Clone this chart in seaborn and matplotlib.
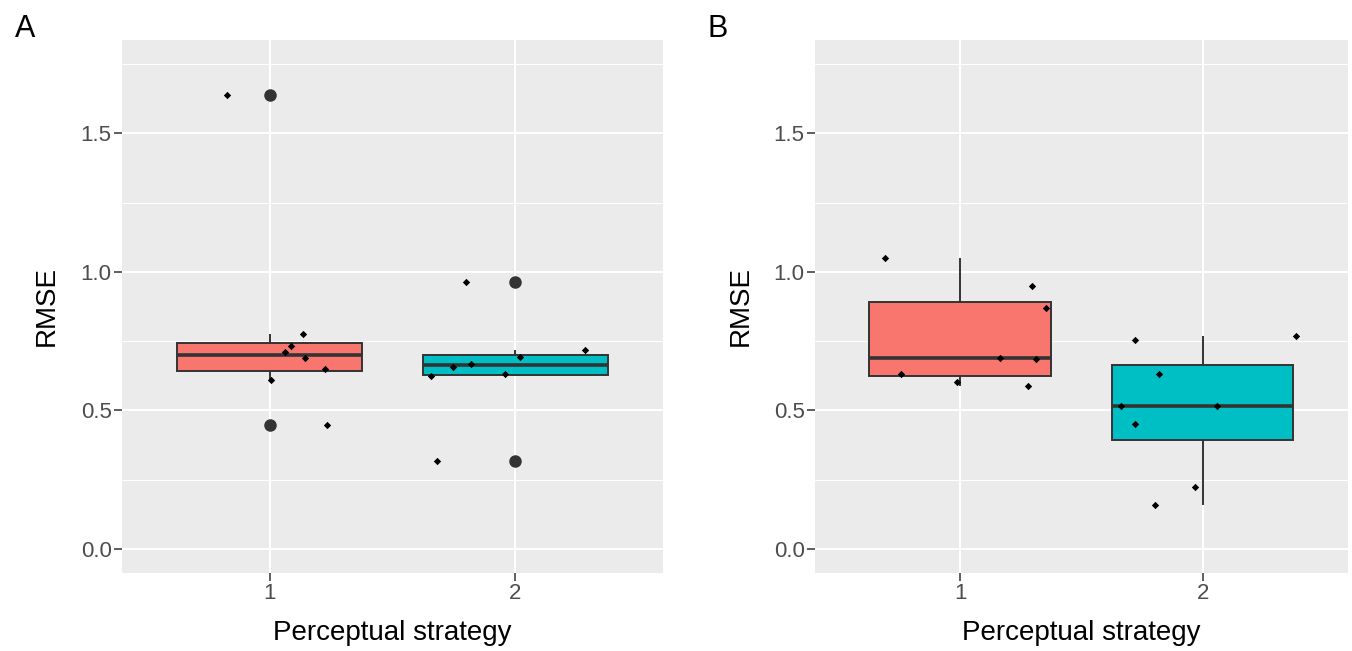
#!/usr/bin/env python3
import matplotlib

matplotlib.use("Agg")
import matplotlib.pyplot as plt
import pandas as pd
import seaborn as sns
from matplotlib.ticker import FixedLocator

# categories and colours
strategies = ["1", "2"]
fill_colors = ["#F8766D", "#00BFC4"]

# panel A: RMSE per subject and horizontal jitter
a_rmse_1 = [1.638, 0.774, 0.733, 0.709, 0.688, 0.651, 0.609, 0.448]
a_jitter_1 = [-0.173, 0.138, 0.089, 0.064, 0.145, 0.227, 0.007, 0.234]
a_rmse_2 = [0.964, 0.717, 0.694, 0.667, 0.658, 0.623, 0.630, 0.318]
a_jitter_2 = [-0.203, 0.284, 0.017, -0.179, -0.253, -0.342, -0.041, -0.317]

# panel B
b_rmse_1 = [1.050, 0.950, 0.870, 0.690, 0.685, 0.633, 0.604, 0.589]
b_jitter_1 = [-0.312, 0.294, 0.354, 0.165, 0.312, -0.247, -0.014, 0.279]
b_rmse_2 = [0.755, 0.770, 0.633, 0.517, 0.517, 0.451, 0.222, 0.157]
b_jitter_2 = [-0.279, 0.385, -0.179, -0.336, 0.060, -0.279, -0.032, -0.198]

y_ticks = [0.0, 0.5, 1.0, 1.5]
y_minor = [0.25, 0.75, 1.25, 1.75]


def _frame(vals_1, jit_1, vals_2, jit_2):
    rows = []
    for idx, (vals, jit) in enumerate([(vals_1, jit_1), (vals_2, jit_2)]):
        for v, j in zip(vals, jit):
            rows.append({"strategy": strategies[idx], "rmse": v, "xpos": idx + j})
    return pd.DataFrame(rows)


def _panel(ax, df, tag, tag_x):
    sns.boxplot(
        data=df,
        x="strategy",
        y="rmse",
        hue="strategy",
        order=strategies,
        hue_order=strategies,
        palette=fill_colors,
        saturation=1,
        width=0.75,
        linecolor="#333333",
        linewidth=1.4,
        showcaps=False,
        whis=1.5,
        flierprops={"marker": "o", "markersize": 8, "markerfacecolor": "#333333",
                    "markeredgecolor": "#333333"},
        medianprops={"linewidth": 2.6, "color": "#333333"},
        legend=False,
        ax=ax,
        zorder=3,
    )
    ax.scatter(df["xpos"], df["rmse"], s=14, color="black", marker="D", zorder=5, linewidths=0)

    ax.set_facecolor("#EBEBEB")
    ax.set_xlim(-0.6, 1.6)
    ax.set_ylim(-0.0875, 1.8375)
    ax.yaxis.set_major_locator(FixedLocator(y_ticks))
    ax.yaxis.set_minor_locator(FixedLocator(y_minor))
    ax.set_yticklabels([f"{t:.1f}" for t in y_ticks])
    ax.grid(which="major", color="white", linewidth=1.5)
    ax.grid(which="minor", axis="y", color="white", linewidth=0.75)
    ax.set_axisbelow(True)
    for spine in ax.spines.values():
        spine.set_visible(False)
    ax.tick_params(which="major", bottom=True, left=True, length=5.5, width=1.1,
                   color="#333333", labelsize=16, labelcolor="#4D4D4D", pad=2)
    ax.tick_params(which="minor", length=0)

    ax.set_xlabel("Perceptual strategy", fontsize=20, color="black")
    ax.set_ylabel("RMSE", fontsize=20, color="black")
    ax.xaxis.set_label_coords(0.5, -0.088)
    ax.yaxis.set_label_coords(-0.115, 0.5)
    ax.figure.text(tag_x, 0.978, tag, fontsize=22, va="top", ha="left", color="black")


def main():
    sns.set_style("darkgrid")
    plt.rcParams["font.family"] = ["Liberation Sans", "DejaVu Sans"]

    fig = plt.figure(figsize=(13.52, 6.51), dpi=100)
    ax_a = fig.add_axes([0.0902, 0.1198, 0.4002, 0.8188])
    ax_b = fig.add_axes([0.6028, 0.1198, 0.3942, 0.8188])

    _panel(ax_a, _frame(a_rmse_1, a_jitter_1, a_rmse_2, a_jitter_2), "A", 0.011)
    _panel(ax_b, _frame(b_rmse_1, b_jitter_1, b_rmse_2, b_jitter_2), "B", 0.523)

    fig.savefig("out.png", dpi=100, facecolor="white")
    plt.close(fig)


if __name__ == "__main__":
    main()
